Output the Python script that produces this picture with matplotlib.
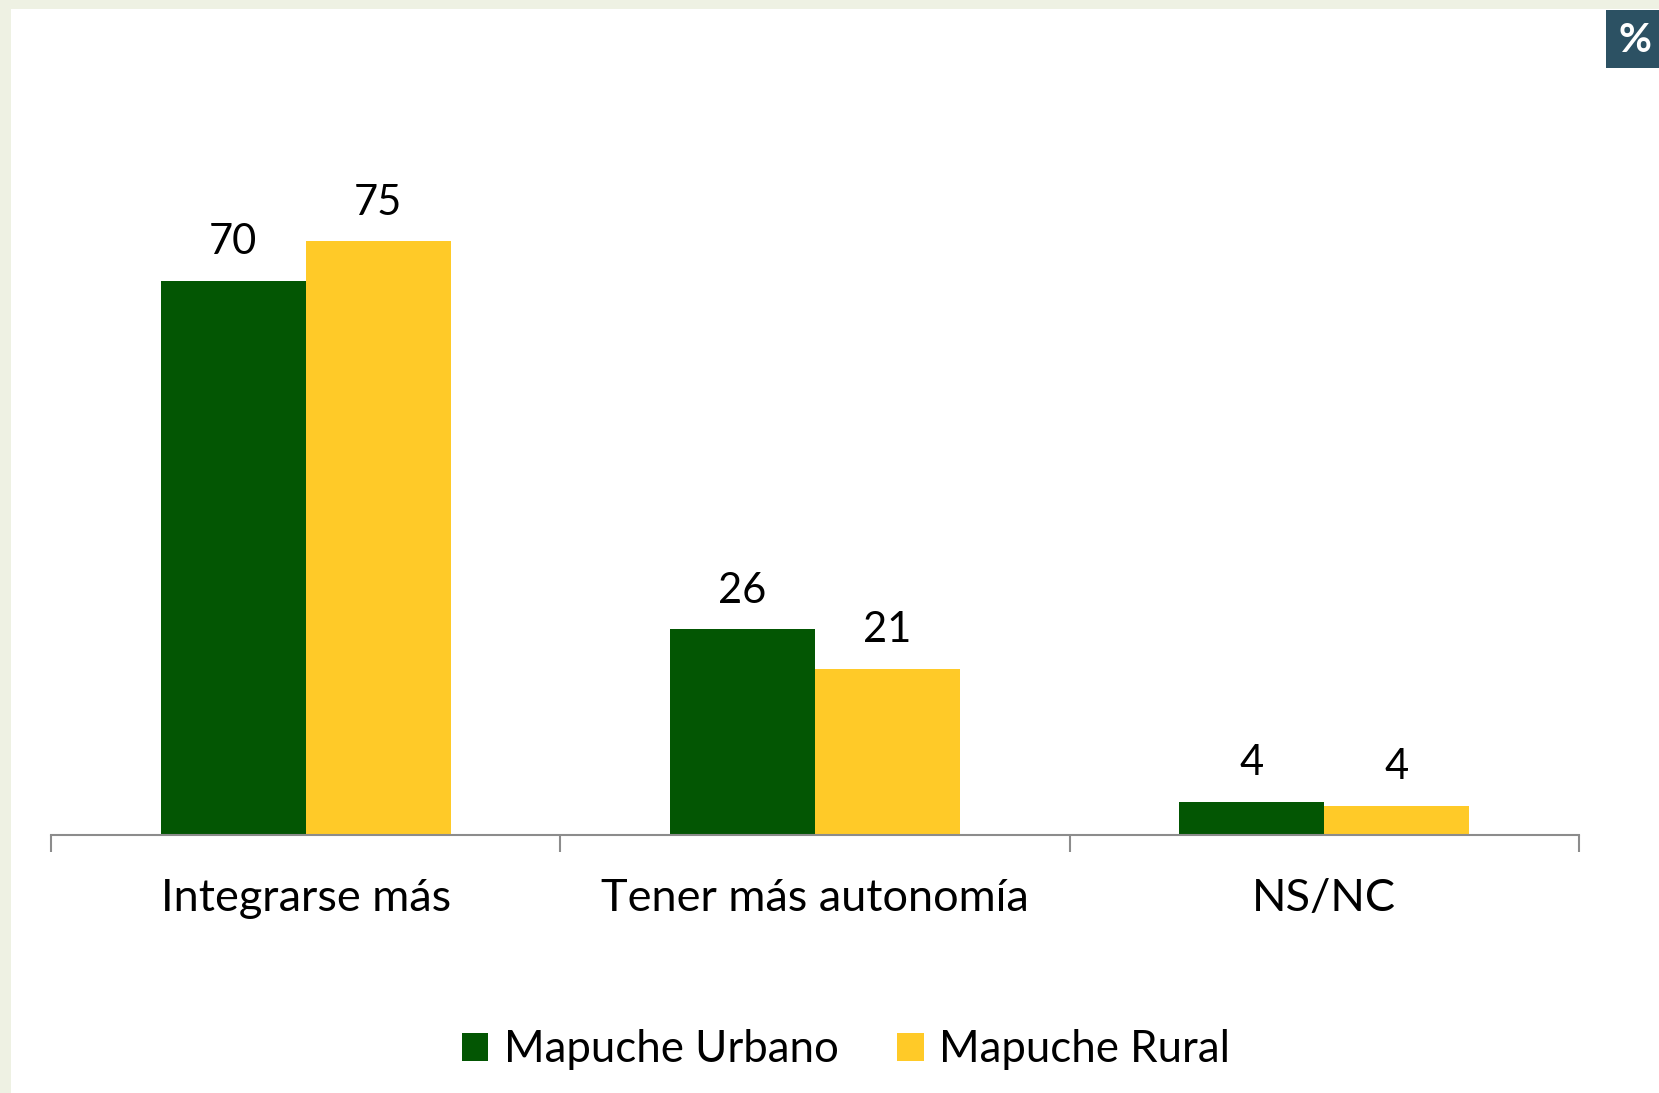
import matplotlib
matplotlib.use("Agg")
import matplotlib.pyplot as plt
from matplotlib.patches import Rectangle
import numpy as np

categories = ["Integrarse más", "Tener más autonomía", "NS/NC"]
series_names = ["Mapuche Urbano", "Mapuche Rural"]
urbano = [70, 26, 4.2]
rural = [75, 21, 3.7]
labels_urbano = ["70", "26", "4"]
labels_rural = ["75", "21", "4"]
colors = ["#035603", "#FFCA28"]

plt.rcParams['font.family'] = ['Lato', 'DejaVu Sans']

W, H = 1659, 1093
fig = plt.figure(figsize=(W / 100, H / 100), dpi=100)
fig.patch.set_facecolor("white")

# decorative border (left and top)
fig.patches.append(Rectangle((0, 0), 11 / W, 1, transform=fig.transFigure,
                             facecolor="#EEF1E3", edgecolor="none", zorder=0))
fig.patches.append(Rectangle((0, 1 - 9 / H), 1, 9 / H, transform=fig.transFigure,
                             facecolor="#EEF1E3", edgecolor="none", zorder=0))
# % box
fig.patches.append(Rectangle((1606 / W, 1 - 68 / H), 53 / W, 58 / H, transform=fig.transFigure,
                             facecolor="#2C5163", edgecolor="none", zorder=1))
fig.text(1635 / W, 1 - 40 / H, "%", color="white", fontsize=29, fontweight="bold",
         ha="center", va="center", family=["Lato", "DejaVu Sans"])

# axes: bottom at y=835 px, 7.92 px per unit, ylim 0..90
ax_left, ax_right = 51, 1579
ax_bottom = 835
ymax = 90
ax_h = ymax * 7.92
ax = fig.add_axes([ax_left / W, 1 - ax_bottom / H, (ax_right - ax_left) / W, ax_h / H])
ax.set_facecolor("none")

x = np.arange(len(categories))
bw = 0.285
b1 = ax.bar(x - bw / 2, urbano, bw, color=colors[0], label=series_names[0], zorder=2)
b2 = ax.bar(x + bw / 2, rural, bw, color=colors[1], label=series_names[1], zorder=2)

for rect, lab in zip(b1, labels_urbano):
    ax.annotate(lab, (rect.get_x() + rect.get_width() / 2, rect.get_height()),
                xytext=(0, 14), textcoords="offset points", ha="center", va="bottom",
                fontsize=30, color="black")
for rect, lab in zip(b2, labels_rural):
    ax.annotate(lab, (rect.get_x() + rect.get_width() / 2, rect.get_height()),
                xytext=(0, 14), textcoords="offset points", ha="center", va="bottom",
                fontsize=30, color="black")

ax.set_xlim(-0.5, len(categories) - 0.5)
ax.set_ylim(0, ymax)
for s in ["top", "right", "left"]:
    ax.spines[s].set_visible(False)
ax.spines["bottom"].set_color("#8C8C8C")
ax.spines["bottom"].set_linewidth(1.5)
ax.set_yticks([])
ax.set_xticks(x)
ax.set_xticklabels(categories, fontsize=32.5)
ax.tick_params(axis="x", which="major", length=0, pad=31)
ax.set_xticks(np.arange(len(categories) + 1) - 0.5, minor=True)
ax.tick_params(axis="x", which="minor", length=12, color="#8C8C8C", width=1.5)

leg = fig.legend(handles=[b1, b2], labels=series_names, loc="center",
                 bbox_to_anchor=(846 / W, 1 - 1050 / H), ncol=2, frameon=False,
                 fontsize=31.5, handlelength=0.6, handleheight=0.6, handletextpad=0.35,
                 columnspacing=1.35)

fig.savefig("out.png", dpi=100, facecolor=fig.get_facecolor())
